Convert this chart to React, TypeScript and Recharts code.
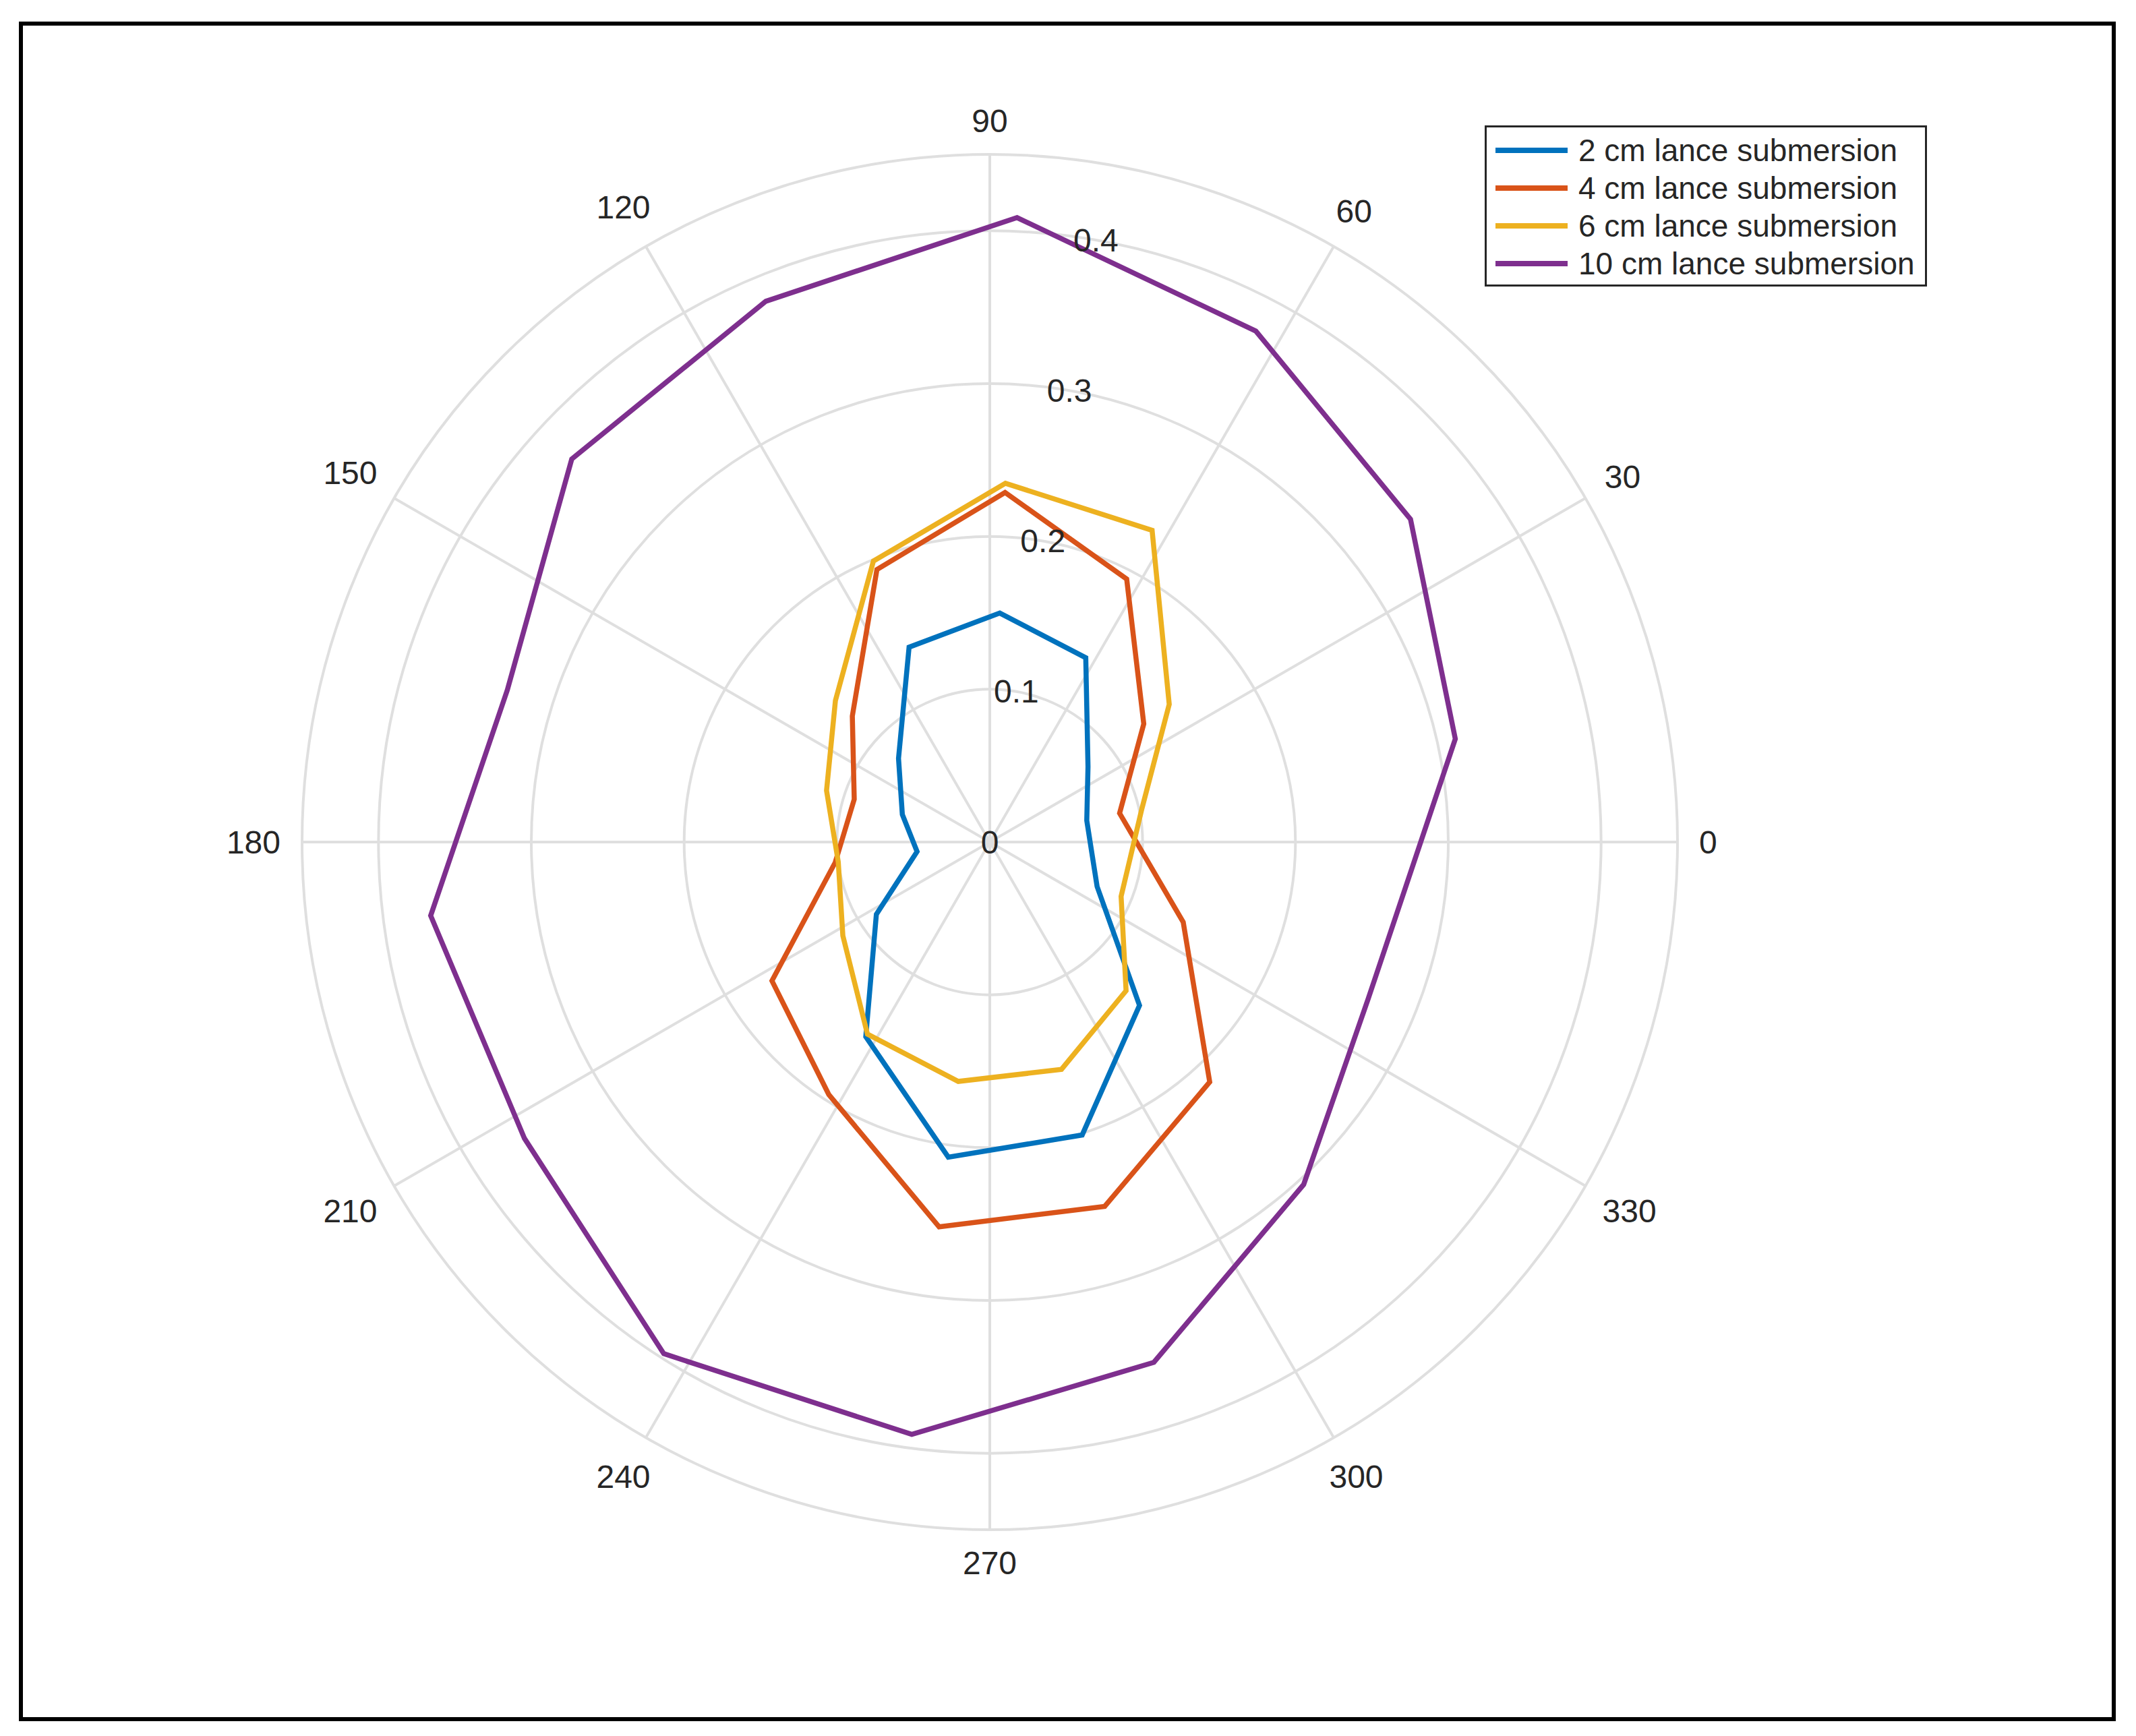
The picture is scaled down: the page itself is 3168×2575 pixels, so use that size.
import React from 'react';
import { Legend, PolarAngleAxis, PolarGrid, PolarRadiusAxis, Radar, RadarChart } from 'recharts';

// measurement angles (deg) and normalised values per lance depth
const angles = [12.5, 37.5, 62.5, 87.5, 112.5, 137.5, 162.5, 187.5, 212.5, 237.5, 262.5, 287.5, 312.5, 337.5];
const cm2 = [0.065, 0.081, 0.136, 0.15, 0.138, 0.081, 0.06, 0.048, 0.088, 0.151, 0.208, 0.201, 0.145, 0.076];
const cm4 = [0.087, 0.127, 0.194, 0.229, 0.193, 0.122, 0.093, 0.102, 0.169, 0.196, 0.254, 0.25, 0.213, 0.137];
const cm6 = [0.102, 0.148, 0.23, 0.235, 0.199, 0.137, 0.112, 0.1, 0.114, 0.149, 0.158, 0.156, 0.132, 0.093];
const cm10 = [0.312, 0.347, 0.377, 0.409, 0.383, 0.371, 0.331, 0.369, 0.361, 0.397, 0.391, 0.357, 0.304, 0.268];

const seriesNames = ['2 cm lance submersion', '4 cm lance submersion', '6 cm lance submersion', '10 cm lance submersion'];
const seriesColors = ['#0072BD', '#D95319', '#EDB120', '#7E2F8E'];

const angleTicks = [0, 30, 60, 90, 120, 150, 180, 210, 240, 270, 300, 330];
const radiusTicks = [0, 0.1, 0.2, 0.3, 0.4];

const data = angles.map((a, i) => ({ angle: a, cm2: cm2[i], cm4: cm4[i], cm6: cm6[i], cm10: cm10[i] }));

const W = 3168;
const H = 2575;
const CX = 1468;
const CY = 1249;
const R = 1020;
const FONT = 'Liberation Sans, Arial, Helvetica, sans-serif';
const TXT = '#262626';
const GRID = '#dfdfdf';

function AngleTick(props: any) {
  const { payload } = props;
  const fs = 48;
  const label = String(payload.value);
  const a = (payload.coordinate * Math.PI) / 180;
  const w = label.length * 0.556 * fs;
  const h = 0.72 * fs;
  const off = R + 32 + (Math.abs(Math.cos(a)) * w) / 2 + (Math.abs(Math.sin(a)) * h) / 2;
  return (
    <text
      x={CX + off * Math.cos(a)}
      y={CY - off * Math.sin(a)}
      textAnchor="middle"
      dominantBaseline="central"
      fontSize={fs}
      fontFamily={FONT}
      fill={TXT}
    >
      {label}
    </text>
  );
}

function RadiusTick(props: any) {
  const { x, y, payload } = props;
  return (
    <text x={x} y={y} textAnchor="middle" dominantBaseline="central" fontSize={48} fontFamily={FONT} fill={TXT}>
      {String(payload.value)}
    </text>
  );
}

function LegendBox(props: any) {
  // keep the plotting order, not the alphabetical one
  const items = [...(props.payload || [])].sort(
    (a: any, b: any) => seriesNames.indexOf(a.value) - seriesNames.indexOf(b.value),
  );
  return (
    <div
      style={{
        boxSizing: 'border-box',
        width: 656,
        height: 239,
        border: `3px solid ${TXT}`,
        background: '#fff',
        paddingTop: 6,
        fontFamily: FONT,
        fontSize: 46,
        color: TXT,
      }}
    >
      {items.map((it: any) => (
        <div key={it.value} style={{ display: 'flex', alignItems: 'center', height: 56, whiteSpace: 'nowrap' }}>
          <div style={{ width: 107, height: 8, marginLeft: 13, marginRight: 16, background: it.color }} />
          <span>{it.value}</span>
        </div>
      ))}
    </div>
  );
}

export default function App() {
  const keys = ['cm2', 'cm4', 'cm6', 'cm10'];
  return (
    <div style={{ position: 'absolute', left: 0, top: 0, width: W, height: H, background: '#fff' }}>
      <RadarChart
        width={W}
        height={H}
        data={data}
        cx={CX}
        cy={CY}
        innerRadius={0}
        outerRadius={R}
        startAngle={0}
        endAngle={360}
        margin={{ top: 0, right: 0, bottom: 0, left: 0 }}
      >
        <PolarGrid gridType="circle" stroke={GRID} strokeWidth={4} />
        <PolarAngleAxis
          dataKey="angle"
          type="number"
          domain={[0, 360]}
          ticks={angleTicks}
          tick={<AngleTick />}
          tickLine={false}
          axisLineType="circle"
          axisLine={{ stroke: GRID, strokeWidth: 4 }}
        />
        <PolarRadiusAxis
          type="number"
          angle={80}
          domain={[0, 0.45]}
          allowDataOverflow
          ticks={radiusTicks}
          tick={<RadiusTick />}
          tickLine={false}
          axisLine={false}
        />
        {keys.map((k, i) => (
          <Radar
            key={k}
            dataKey={k}
            name={seriesNames[i]}
            stroke={seriesColors[i]}
            strokeWidth={7.5}
            fill="none"
            fillOpacity={0}
            dot={false}
            activeDot={false}
            isAnimationActive={false}
          />
        ))}
        <Legend
          layout="vertical"
          align="center"
          verticalAlign="middle"
          content={<LegendBox />}
          wrapperStyle={{ left: 2202, top: 186, width: 656, height: 239 }}
        />
      </RadarChart>
      <div
        style={{
          position: 'absolute',
          left: 28,
          top: 32,
          width: 3110,
          height: 2521,
          boxSizing: 'border-box',
          border: '6.5px solid #000',
          pointerEvents: 'none',
        }}
      />
    </div>
  );
}
